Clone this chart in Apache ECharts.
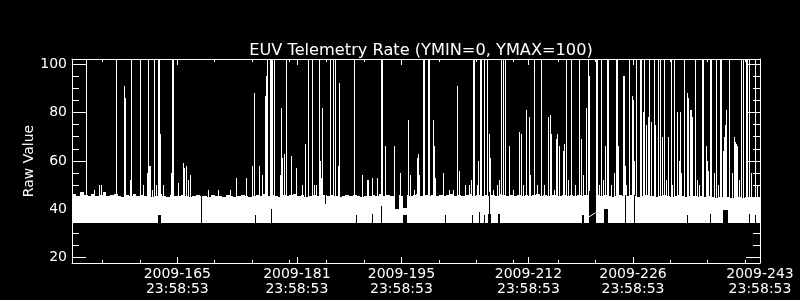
<!DOCTYPE html>
<html><head><meta charset="utf-8">
<script src="https://cdn.jsdelivr.net/npm/echarts@6/dist/echarts.min.js"></script>
<style>html,body{margin:0;padding:0;background:#000}#c{width:800px;height:300px}</style>
</head><body><div id="c"></div>
<script>
// ---------- text ----------
const chartTitle = 'EUV Telemetry Rate (YMIN=0, YMAX=100)';
const yAxisName = 'Raw Value';
// ---------- axes (x = day of year 2009) ----------
const xMin = 150.9, xMax = 243;
const yMin = 17.8, yMax = 102.1;
const xMajorTicks = [165, 181, 195, 212, 226, 243];
const xTickLabels = ['2009-165', '2009-181', '2009-195', '2009-212', '2009-226', '2009-243'];
const xTickTime = '23:58:53';
const xMinorTicks = [155, 160, 165, 170, 175, 180, 185, 190, 195, 200, 205, 210, 216, 221, 226, 231, 236, 241];
const yMajorTicks = [20, 40, 60, 80, 100];
const yMinorTicks = [25, 30, 35, 45, 50, 55, 65, 70, 75, 85, 90, 95];
// ---------- data ----------
const bandBase = 34.5;          // lower edge of the dense telemetry band
const bandStart = 150.5, bandStep = 0.5;
const bandTop = [
 46,46.5,45.5,47,46,45.5,46.5,45.5,46,47, 45.5,46,46.5,45.5,45,46,45.5,46.5,45.5,46,
 45.5,46,45,45.5,46.5,45.5,45,46,45.5,45.5, 46,45.5,45,45.5,46,45.5,45.5,45,46,45.5,
 45.5,45,46,45.5,45,45.5,46,45.5,45,45.5, 46,45.5,46.5,45.5,46,45.5,45,46,45.5,46,
 46.5,45.5,46,45,45.5,46,45.5,45,46,45.5, 46,45.5,45,45.5,46,45.5,46,45.5,45,45.5,
 45.5,46,45.5,46.5,45.5,46,45.5,45,46,45.5, 46,45.5,46,46.5,45.5,46,45.5,46,45.5,46,
 45.5,46,46.5,45.5,46,45.5,46,46.5,45.5,46, 45.5,46,45.5,46,45.5,46.5,46,45.5,46,45.5,
 46,45.5,46,45.5,46,46.5,45.5,46,45.5,46, 46,45.5,46,45.5,46,45.5,46,45.5,46,45.5,
 45.5,46,45.5,46,45.5,45,45.5,46,45.5,45.5, 46,45.5,45,45.5,46,45.5,45.5,45,45.5,46,
 45.5,45,45.5,46,45.5,45,45.5,45.5,45,45.5, 45,45.5,45,44.5,45,45.5,45,44.5,45,45,
 44.5,45,45,44.5,45,45
];
// spikes: [day, value]
const spikes = [
 [152.77,102],[153.89,48],[154.47,50],[154.78,50],[156.83,102],[157.82,86],[157.90,91],[158.03,86],[158.70,52],[158.84,102],
 [159.96,102],[160.04,102],[160.44,50],[160.94,55],[161.11,102],[161.21,58],[161.34,58],[161.57,48],[161.92,102],[162.14,50],
 [162.37,102],[162.51,102],[162.68,71],[163.12,50],[164.11,55],[164.33,102],[164.46,102],[165.13,51],[165.72,59],[165.85,57],
 [166.20,58],[166.39,52],[166.74,54],[169.15,48],[170.48,48],[172.05,48],[172.89,53],
 [174.23,53],[174.96,58],[175.22,88],[175.97,58],[176.37,54],[176.78,87],[176.91,95],[177.04,102],[177.40,102],[177.54,102],
 [177.71,102],[177.94,102],[178.70,54],[178.92,82],[179.05,61],[179.24,63],[179.59,102],[180.26,62],[180.93,57],[181.73,50],
 [182.13,67],[182.53,102],[183.03,102],[183.25,50],[183.60,50],[183.92,102],[184.06,60],[184.23,53],[184.41,82],[185.48,102],
 [185.84,102],[186.07,102],[186.51,58],[186.68,92],[188.69,102],[189.76,54],[190.39,52],[190.56,52],[191.10,53],[191.77,53],
 [192.22,102],[192.44,102],[192.84,66],[194.04,66],[194.85,55],[195.92,77],[196.10,54],[196.72,48],[197.08,61],
 [197.18,63],[197.31,54],[197.85,102],[198.02,102],[198.55,102],[198.65,102],[199.26,77],[199.40,66],[199.53,53],[200.60,55],
 [201.33,48],[201.86,48],[202.44,91],[202.74,56],[203.51,50],[204.00,50],[204.27,52],[204.54,102],[204.67,102],[205.11,50],
 [205.25,60],[205.47,102],[205.69,102],[206.05,102],[206.41,102],[206.68,71],[206.85,61],[207.22,48],[207.79,50],[208.10,52],
 [208.33,102],[208.55,102],[208.82,102],[209.44,66],[209.89,48],[210.78,72],[210.96,71],[211.31,50],[211.71,81],[212.03,78],
 [212.21,54],[212.74,102],[213.11,50],[213.72,102],[214.04,50],[214.66,78],[214.85,79],[214.98,71],[215.38,48],[215.73,69],
 [215.86,71],[216.13,66],[216.63,64],[216.80,67],[216.99,102],[217.26,52],[217.74,102],[218.23,50],[218.73,102],[219.04,69],
 [219.26,54],[219.70,82],[219.97,102],[220.07,95],
 [221.04,102],[221.18,102],[221.4,50],[221.67,102],[222.0,52],[222.29,66],[222.52,102],[222.69,102],[223.0,50],[223.4,55],
 [223.72,102],[223.85,102],[224.03,66],[224.66,95],[224.83,95],[224.92,58],[225.1,50],[225.46,102],[225.86,87],[226.04,85],
 [226.17,60],[226.46,102],[226.93,102],[227.0,52],[227.07,102],[227.33,80],[227.51,102],[227.70,75],[228.00,78],[228.18,102],
 [228.37,76],[228.81,102],[228.94,75],[229.0,50],[229.41,102],[229.57,102],[229.88,70],[230.15,102],[230.4,52],[230.75,70],
 [231.08,102],[231.2,50],[231.48,102],[231.89,80],[232.15,60],[232.29,80],[232.4,55],[232.76,102],[233.18,88],[233.32,86],
 [233.63,81],[233.76,81],[233.89,78],[234.25,102],[234.6,52],[234.9,50],[235.23,102],[235.43,102],[235.83,66],[235.93,60],
 [236.03,56],[236.30,102],[236.48,102],[236.8,55],[237.07,102],[237.4,50],[237.64,102],[237.73,102],[238.04,64],[238.2,70],
 [238.3,75],[238.41,81],[238.85,102],[239.2,55],[239.52,70],[239.65,68],[239.78,67],[239.92,66],[240.2,52],[240.45,102],
 [240.52,76],[240.79,102],[241.12,102],[241.26,102],[241.52,102],[241.8,55],[242.28,102],[242.6,50]
];
// data gaps / dips inside the band: [startDay, endDay, low, high]
const gaps = [
 [162.41,162.77,34.5,37.7],[168.21,168.21,34.5,46],[175.43,175.43,34.5,37.5],[177.59,177.59,34.5,40],[184.81,184.81,42,46],
 [188.96,188.96,34.5,37.5],[191.10,191.10,34.5,38],[192.31,192.31,34.5,41.5],[194.14,194.71,40.3,47.5],[195.21,195.79,40.5,47.5],
 [195.21,195.79,34.5,37.5],[200.87,200.87,34.5,37.5],[204.44,204.44,34.5,37.5],[205.42,205.42,34.5,39],[206.01,206.01,34.5,37.5],
 [206.55,207.0,34.5,38],[206.76,206.76,34.5,47],[207.93,208.2,34.5,38],[219.17,219.44,34.5,37.5],[220.12,221.0,34.5,47.5],
 [222.12,222.7,34.5,40],[224.92,224.92,34.5,46],[226.17,226.17,34.5,46],[233.18,233.18,34.5,37.5],[236.30,236.30,34.5,38],
 [238.0,238.7,34.5,39.5],[241.52,241.52,34.5,38],[242.28,242.28,34.5,37.5]
];
// thin trace crossing the large gap
const gapTrace = [[220.12, 36.9], [221.0, 38.6]];

// ---------- chart ----------
const white = '#ffffff';
const fontFam = 'DejaVu Sans';
function xAx(pos, ticks, len, withLabels, showLine) {
  return {
    type: 'value', position: pos, min: xMin, max: xMax,
    axisLine: { show: showLine, lineStyle: { color: white, width: 1 } },
    splitLine: { show: false },
    axisTick: { show: true, inside: true, length: len, customValues: ticks, lineStyle: { color: white, width: 1 } },
    axisLabel: withLabels ? {
      show: true, customValues: xMajorTicks, color: white, fontFamily: fontFam, fontSize: 14, lineHeight: 15, margin: 4,
      formatter: v => { const i = xMajorTicks.indexOf(Math.round(v)); return (i >= 0 ? xTickLabels[i] : '') + '\n' + xTickTime; }
    } : { show: false }
  };
}
function yAx(pos, ticks, len, withLabels, showLine) {
  const o = {
    type: 'value', position: pos, min: yMin, max: yMax,
    axisLine: { show: showLine, lineStyle: { color: white, width: 1 } },
    splitLine: { show: false },
    axisTick: { show: true, inside: true, length: len, customValues: ticks, lineStyle: { color: white, width: 1 } },
    axisLabel: withLabels ? { show: true, customValues: yMajorTicks, color: white, fontFamily: fontFam, fontSize: 14, margin: 5 } : { show: false }
  };
  if (withLabels) {
    o.name = yAxisName; o.nameLocation = 'middle'; o.nameGap = 36; o.nameMoveOverlap = false;
    o.nameTextStyle = { color: white, fontFamily: fontFam, fontSize: 14 };
  }
  return o;
}

const chart = echarts.init(document.getElementById('c'), null, { renderer: 'canvas' });
chart.setOption({
  backgroundColor: '#000',
  animation: false,
  title: { text: chartTitle, left: 416, textAlign: 'center', top: 38,
    textStyle: { color: white, fontFamily: fontFam, fontSize: 16.2, fontWeight: 'normal' } },
  grid: { left: 72, right: 40, top: 59, bottom: 37, containLabel: false },
  xAxis: [
    xAx('bottom', xMajorTicks, 6, true, true),
    xAx('bottom', xMinorTicks, 3, false, false),
    xAx('top', xMajorTicks, 6, false, true),
    xAx('top', xMinorTicks, 3, false, false)
  ],
  yAxis: [
    yAx('left', yMajorTicks, 14, true, true),
    yAx('left', yMinorTicks, 7, false, false),
    yAx('right', yMajorTicks, 14, false, true),
    yAx('right', yMinorTicks, 7, false, false)
  ],
  series: [
    { type: 'custom', xAxisIndex: 0, yAxisIndex: 0, clip: true, silent: true,
      data: bandTop.map((t, i) => [bandStart + i * bandStep, t]),
      renderItem: (params, api) => {
        const a = api.coord([api.value(0), bandBase]);
        const b = api.coord([api.value(0) + bandStep, api.value(1)]);
        const x0 = Math.round(a[0]), x1 = Math.round(b[0]);
        const y0 = Math.round(a[1]), y1 = Math.round(b[1]);
        return { type: 'rect', shape: { x: x0, y: y1, width: x1 - x0, height: y0 - y1 }, style: { fill: white } };
      } },
    { type: 'custom', xAxisIndex: 0, yAxisIndex: 0, clip: true, silent: true,
      data: spikes,
      renderItem: (params, api) => {
        const a = api.coord([api.value(0), bandBase]);
        const b = api.coord([api.value(0), api.value(1)]);
        const x = Math.round(a[0]);
        return { type: 'rect', shape: { x: x, y: Math.round(b[1]), width: 1, height: Math.round(a[1]) - Math.round(b[1]) }, style: { fill: white } };
      } },
    { type: 'custom', xAxisIndex: 0, yAxisIndex: 0, clip: true, silent: true,
      data: gaps, encode: { x: [0, 1], y: [2, 3] },
      renderItem: (params, api) => {
        const a = api.coord([api.value(0), api.value(2)]);
        const b = api.coord([api.value(1), api.value(3)]);
        const x0 = Math.round(a[0]);
        const w = Math.max(1, Math.round(b[0]) - x0);
        return { type: 'rect', shape: { x: x0, y: Math.round(b[1]), width: w, height: Math.round(a[1]) - Math.round(b[1]) }, style: { fill: '#000' } };
      } },
    { type: 'line', xAxisIndex: 0, yAxisIndex: 0, data: gapTrace, symbol: 'none', silent: true,
      lineStyle: { color: white, width: 1 } }
  ]
});
</script>
</body></html>
